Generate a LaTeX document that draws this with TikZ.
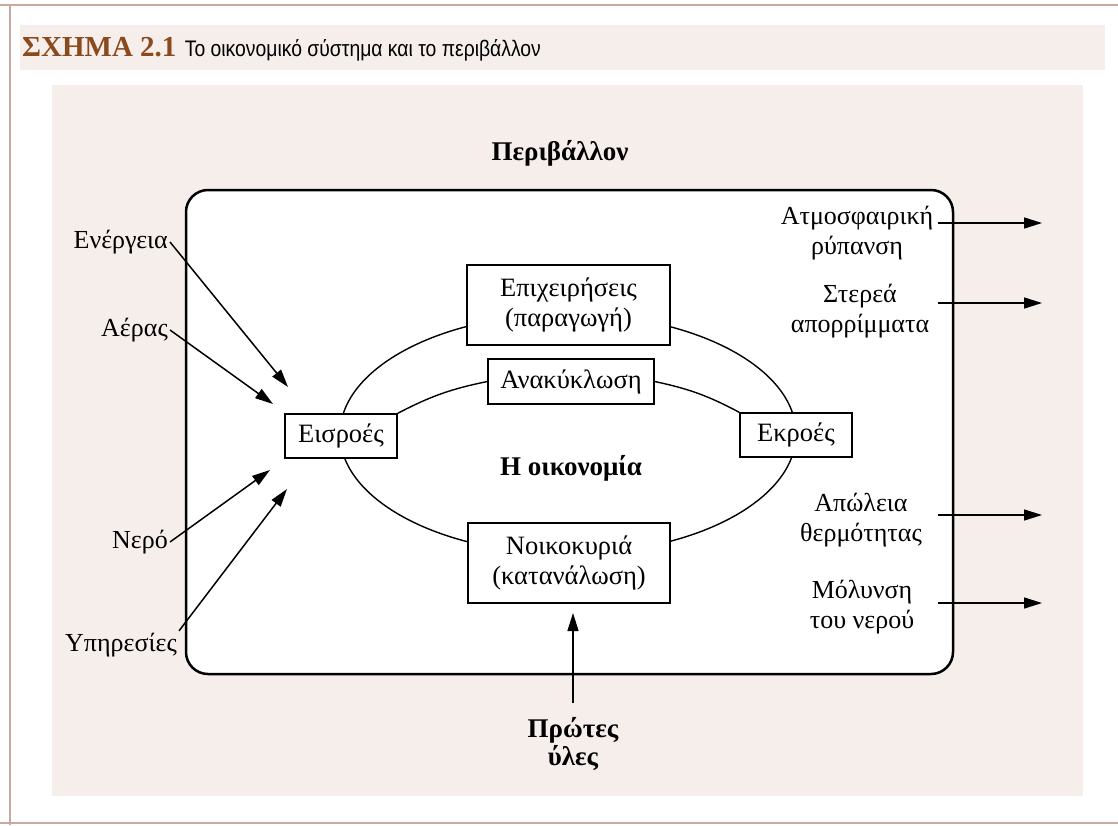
\documentclass[tikz,border=0pt]{standalone}
\usepackage{fontspec}
\setmainfont{Liberation Serif}
\newfontfamily\titlesans[FakeStretch=0.86]{Liberation Sans}
\usetikzlibrary{arrows.meta}
\definecolor{panel}{HTML}{F6EEEB}
\definecolor{framec}{HTML}{C8A9A2}
\definecolor{titlebrown}{HTML}{8A4A1E}
\begin{document}
\begin{tikzpicture}[x=1pt,y=-1pt,
  box/.style={draw,line width=1.3pt,fill=white,inner sep=0pt,font=\fontsize{26.5}{30}\selectfont,align=center},
  lbl/.style={inner sep=2pt,font=\fontsize{26}{30}\selectfont,align=center},
  boldlbl/.style={inner sep=2pt,font=\fontsize{27}{28}\selectfont\bfseries,align=center},
  arr/.style={line width=1.5pt,-{Triangle[length=18pt,width=11pt]}}]
\useasboundingbox (0,0) rectangle (1118,825);
\fill[white] (0,0) rectangle (1118,825);
\fill[panel] (20,25) rectangle (1105,70);
\fill[panel] (52,85) rectangle (1083,796);
\draw[framec,line width=1.5pt] (0,5) -- (1118,5);
\draw[framec,line width=1.5pt] (10,5) -- (10,825);
\draw[framec,line width=1.2pt] (0,823) -- (1118,823);
% title
\node[anchor=base west,inner sep=0pt,text=titlebrown,font=\fontsize{29}{30}\selectfont\bfseries] (fig) at (22,56) {ΣΧΗΜΑ 2.1};
\node[anchor=base west,inner sep=0pt,font=\titlesans\fontsize{22.5}{24}\selectfont] (cap) at ([xshift=8pt]fig.base east) {Το οικονομικό σύστημα και το περιβάλλον};
% environment
\node[draw,line width=2.5pt,rounded corners=22pt,fill=white,minimum width=767,minimum height=484,inner sep=0pt] (env) at (569.5,432) {};
\node[boldlbl] (perib) at (560,153) {Περιβάλλον};
% economy ellipse
\draw[line width=1.4pt] (568,434) ellipse [x radius=228, y radius=120];
\node[box,minimum width=112,minimum height=44] (in) at (341,436) {Εισροές};
\node[box,minimum width=112,minimum height=44] (out) at (796,435) {Εκροές};
\node[box,minimum width=203,minimum height=80] (firms) at (568.5,305) {Επιχειρήσεις\\(παραγωγή)};
\node[box,minimum width=166,minimum height=45] (rec) at (571,381.5) {Ανακύκλωση};
\node[box,minimum width=202,minimum height=80] (house) at (569,563) {Νοικοκυριά\\(κατανάλωση)};
\draw[line width=1.4pt] (in.north east) to[bend left=8] (rec.west);
\draw[line width=1.4pt] (rec.east) to[bend left=8] (out.north west);
\node[boldlbl] (econ) at (571,468) {Η οικονομία};
% inputs
\node[lbl,anchor=east] (en) at (170,242) {Ενέργεια};
\node[lbl,anchor=east] (air) at (170,330) {Αέρας};
\node[lbl,anchor=east] (ner) at (170,542) {Νερό};
\node[lbl,anchor=east] (ser) at (179,645) {Υπηρεσίες};
\coordinate (t1) at (288,387);
\coordinate (t2) at (273,404);
\coordinate (t3) at (270,470);
\coordinate (t4) at (287,489);
\draw[arr] (en.east) -- (t1);
\draw[arr] (air.east) -- (t2);
\draw[arr] (ner.east) -- (t3);
\draw[arr] (ser.north east) -- (t4);
% outputs
\node[lbl] (atm) at (857,233) {Ατμοσφαιρική\\ρύπανση};
\node[lbl] (ster) at (860,311) {Στερεά\\απορρίμματα};
\node[lbl] (heat) at (861,520) {Απώλεια\\θερμότητας};
\node[lbl] (wat) at (862,607) {Μόλυνση\\του νερού};
\coordinate (o1s) at (938,223); \coordinate (o1e) at (1042,223);
\coordinate (o2s) at (938,303); \coordinate (o2e) at (1042,303);
\coordinate (o3s) at (938,515); \coordinate (o3e) at (1042,515);
\coordinate (o4s) at (938,603); \coordinate (o4e) at (1042,603);
\draw[arr] (o1s) -- (o1e);
\draw[arr] (o2s) -- (o2e);
\draw[arr] (o3s) -- (o3e);
\draw[arr] (o4s) -- (o4e);
% raw materials
\node[boldlbl] (raw) at (573,744) {Πρώτες\\ύλες};
\coordinate (t5) at (573,613);
\draw[arr] ([yshift=12pt]raw.north) -- (t5);
\end{tikzpicture}
\end{document}
